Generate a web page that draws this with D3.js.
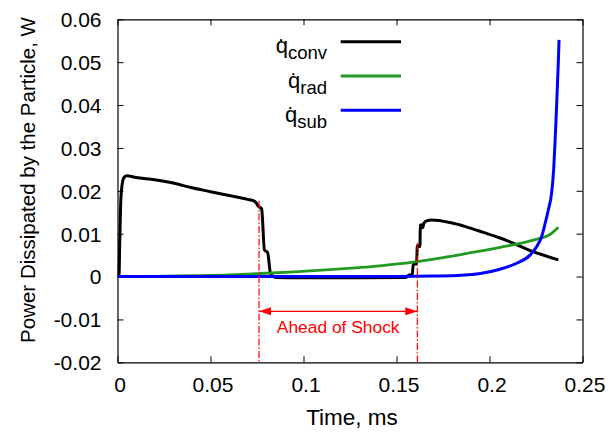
<!DOCTYPE html>
<html>
<head>
<meta charset="utf-8">
<script src="https://cdn.jsdelivr.net/npm/d3@7"></script>
<style>
  html, body { margin: 0; padding: 0; background: #fff; }
  svg { display: block; font-family: "Liberation Sans", Arial, Helvetica, sans-serif; }
</style>
</head>
<body>
<svg id="chart" width="610" height="435"></svg>
<script>
// ---- data (time in ms, power in W) ----
const convTime = [0, 0.0008, 0.0012, 0.0018, 0.0025, 0.0035, 0.005, 0.01, 0.02, 0.03, 0.04, 0.05, 0.06, 0.07, 0.073, 0.0745, 0.0757, 0.0775, 0.079, 0.0807, 0.0823, 0.085, 0.1, 0.13, 0.155, 0.1565, 0.1585, 0.159, 0.1608, 0.1612, 0.1626, 0.1628, 0.1636, 0.1641, 0.1648, 0.1662, 0.1689, 0.1788, 0.1875, 0.1967, 0.205, 0.211, 0.2235, 0.237];
const convVal  = [0, 0, 0.008, 0.018, 0.0215, 0.0231, 0.0235, 0.0231, 0.0226, 0.0218, 0.0207, 0.0198, 0.0189, 0.018, 0.0177, 0.0172, 0.0164, 0.0158, 0.0062, 0.0056, 0.0007, -0.0002, -0.0003, -0.0003, -0.0002, 0.0003, 0.0005, 0.0028, 0.003, 0.0072, 0.0070, 0.0120, 0.0121, 0.0114, 0.0125, 0.013, 0.0132, 0.0126, 0.0116, 0.0103, 0.0091, 0.0081, 0.0058, 0.0039];

const radTime = [0, 0.02, 0.04, 0.06, 0.076, 0.095, 0.114, 0.13, 0.141, 0.152, 0.161, 0.175, 0.188, 0.2056, 0.2235, 0.2325, 0.237];
const radVal  = [0, 0.00005, 0.0002, 0.0004, 0.0007, 0.0011, 0.0016, 0.0021, 0.0025, 0.003, 0.0035, 0.0044, 0.0054, 0.0068, 0.0085, 0.0098, 0.0115];

const subTime = [0, 0.15, 0.17, 0.185, 0.195, 0.2056, 0.2146, 0.2218, 0.2254, 0.228, 0.2298, 0.2316, 0.2334, 0.2345, 0.2352, 0.2359, 0.2365, 0.237, 0.2374];
const subVal  = [0, 0, 0.0001, 0.0003, 0.0007, 0.0017, 0.0031, 0.005, 0.007, 0.0093, 0.0122, 0.0155, 0.0195, 0.025, 0.031, 0.038, 0.0445, 0.05, 0.0552];

const seriesNames  = ["conv", "rad", "sub"];
const seriesColors = ["#000000", "#229a22", "#0000ff"];

const xTicks = [0, 0.05, 0.1, 0.15, 0.2, 0.25];
const yTicks = [-0.02, -0.01, 0, 0.01, 0.02, 0.03, 0.04, 0.05, 0.06];
const xTickLabels = ["0", "0.05", "0.1", "0.15", "0.2", "0.25"];
const yTickLabels = ["-0.02", "-0.01", "0", "0.01", "0.02", "0.03", "0.04", "0.05", "0.06"];

const xTitle = "Time, ms";
const yTitle = "Power Dissipated by the Particle, W";

// shock annotation
const shockStart = 0.0761, shockEnd = 0.1612;
const shockStartTop = 0.0176, shockEndTop = 0.0078;
const arrowLevel = -0.0081, labelLevel = -0.0132;
const shockLabel = "Ahead of Shock";

// ---- layout ----
const L = 117.5, R = 582.5, T = 19.3, B = 362.3;
const svg = d3.select("#chart");
const x = d3.scaleLinear().domain([0, 0.25]).range([L, R]);
const y = d3.scaleLinear().domain([-0.02, 0.06]).range([B, T]);

const tk = 6;
// axes
const gB = svg.append("g").attr("transform", `translate(0,${B})`)
  .call(d3.axisBottom(x).tickValues(xTicks).tickFormat((d, i) => xTickLabels[i])
    .tickSizeInner(-tk).tickSizeOuter(0).tickPadding(15));
const gL = svg.append("g").attr("transform", `translate(${L},0)`)
  .call(d3.axisLeft(y).tickValues(yTicks).tickFormat((d, i) => yTickLabels[i])
    .tickSizeInner(-tk).tickSizeOuter(0).tickPadding(16));
const gT = svg.append("g").attr("transform", `translate(0,${T})`)
  .call(d3.axisTop(x).tickValues(xTicks).tickFormat("").tickSizeInner(-tk).tickSizeOuter(0));
const gR = svg.append("g").attr("transform", `translate(${R},0)`)
  .call(d3.axisRight(y).tickValues(yTicks).tickFormat("").tickSizeInner(-tk).tickSizeOuter(0));

[gB, gL, gT, gR].forEach(g => {
  g.selectAll(".domain").attr("stroke", "#000").attr("stroke-width", 1.2);
  g.selectAll(".tick line").attr("stroke", "#000").attr("stroke-width", 1);
  g.selectAll("text").attr("font-family", "Liberation Sans, Arial, sans-serif")
    .attr("font-size", 21).attr("fill", "#000");
});
gB.selectAll(".tick text").attr("dx", 2);
gL.selectAll(".tick text").attr("dy", "0.35em");

// titles
svg.append("text").attr("x", (L + R) / 2 + 2).attr("y", 425)
  .attr("text-anchor", "middle").attr("font-size", 22.5).text(xTitle);
svg.append("text").attr("transform", `translate(35,180) rotate(-90)`)
  .attr("text-anchor", "middle").attr("font-size", 20.5).text(yTitle);

// curves
const lineSmooth = d3.line().x(d => x(d[0])).y(d => y(d[1])).curve(d3.curveMonotoneX);
const series = [
  d3.zip(convTime, convVal),
  d3.zip(radTime, radVal),
  d3.zip(subTime, subVal)
];
const widths = [3, 2.8, 3];
series.forEach((s, i) => {
  svg.append("path").datum(s).attr("d", lineSmooth)
    .attr("fill", "none").attr("stroke", seriesColors[i])
    .attr("stroke-width", widths[i]).attr("stroke-linejoin", "round");
});

// legend
const legTop = 41.7, legGap = 34.3;
seriesNames.forEach((nm, i) => {
  const ly = legTop + i * legGap;
  svg.append("line").attr("x1", 340.7).attr("x2", 401).attr("y1", ly).attr("y2", ly)
    .attr("stroke", seriesColors[i]).attr("stroke-width", 3);
  const t = svg.append("text").attr("x", 327).attr("y", ly + 11.5)
    .attr("text-anchor", "end").attr("font-size", 22);
  t.append("tspan").text("q\u0307");
  t.append("tspan").attr("dy", 6).attr("font-size", 18.5).text(nm);
});

// shock annotation
const defs = svg.append("defs");
defs.append("marker").attr("id", "arr").attr("viewBox", "0 0 12 8")
  .attr("refX", 12).attr("refY", 4).attr("markerWidth", 12).attr("markerHeight", 8)
  .attr("markerUnits", "userSpaceOnUse").attr("orient", "auto-start-reverse")
  .append("path").attr("d", "M0,0 L12,4 L0,8 Z").attr("fill", "#ff0000");

const red = "#ff0000";
[[shockStart, shockStartTop], [shockEnd, shockEndTop]].forEach(([sx, top]) => {
  svg.append("line").attr("x1", x(sx)).attr("x2", x(sx))
    .attr("y1", y(top)).attr("y2", y(-0.02))
    .attr("stroke", red).attr("stroke-width", 1.2).attr("stroke-dasharray", "7,2,1.5,2");
});
svg.append("line").attr("x1", x(shockStart)).attr("x2", x(shockEnd))
  .attr("y1", y(arrowLevel)).attr("y2", y(arrowLevel))
  .attr("stroke", red).attr("stroke-width", 1.2)
  .attr("marker-start", "url(#arr)").attr("marker-end", "url(#arr)");
svg.append("text").attr("x", x((shockStart + shockEnd) / 2)).attr("y", y(labelLevel))
  .attr("text-anchor", "middle").attr("font-size", 17.4).attr("fill", red).text(shockLabel);
</script>
</body>
</html>
